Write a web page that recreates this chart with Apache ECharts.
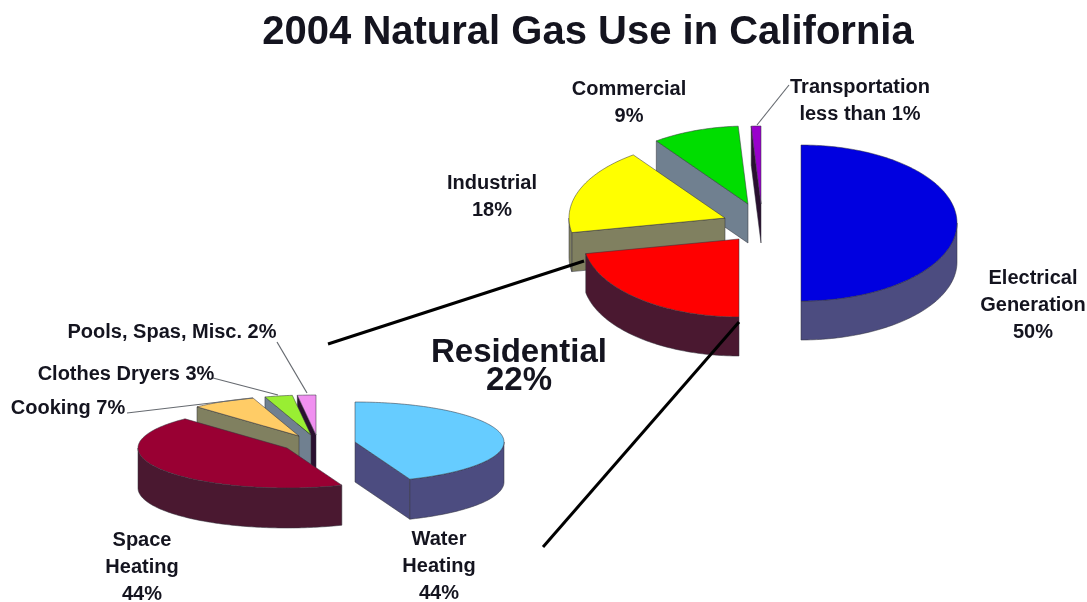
<!DOCTYPE html>
<html><head><meta charset="utf-8">
<style>html,body{margin:0;padding:0;background:#fff}#c{width:1087px;height:602px}</style>
<script src="https://cdn.jsdelivr.net/npm/echarts@6/dist/echarts.min.js"></script>
</head><body><div id="c"></div>
<script>
// ---- data ----
const mainNames = ['Electrical Generation','Residential','Industrial','Commercial','Transportation'];
const mainValues = [50, 22, 18, 9, 1];
const residentialNames = ['Water Heating','Space Heating','Cooking','Clothes Dryers','Pools, Spas, Misc.'];
const residentialValues = [44, 44, 7, 3, 2];
// ---- styles ----
const mainTop = ['#0000e0','#ff0000','#ffff00','#00dd00','#9900cc'];
const mainSide = ['#4c4c80','#4a1830','#808060','#708090','#2a1030'];
const residentialTop = ['#66ccff','#990033','#ffcc66','#99ee33','#f090f0'];
const residentialSide = ['#4c4c80','#4a1830','#808060','#708090','#2a1030'];
// ---- layout: pie centre, radii, depth, explode offset per slice, paint order ----
const mainLayout = {cx:770, cy:222, rx:156, ry:78, depth:39,
  explode:[[31,1],[-31,17],[-45,-4],[-22,-18],[-9,-18]], order:[0,4,3,2,1]};
const residentialLayout = {cx:320, cy:442, rx:149, ry:40, depth:40,
  explode:[[35,0],[-33,6],[-21,-6],[-9,-7],[-4,-7]], order:[4,3,2,1,0]};

function pieRenderer(values, layout, tops, sides){
  const total = values.reduce((a,b)=>a+b,0);
  return function(params, api){
    const i = params.dataIndex;
    let before = 0;
    for(let k=0;k<i;k++) before += values[k];
    const t0 = before/total*2*Math.PI;
    const t1 = (before+api.value(0))/total*2*Math.PI;
    const vx = layout.cx+layout.explode[i][0], vy = layout.cy+layout.explode[i][1];
    const P = t => [vx+layout.rx*Math.sin(t), vy-layout.ry*Math.cos(t)];
    const D = p => [p[0], p[1]+layout.depth];
    const base = layout.order[i]*10;
    const edge = 'rgba(50,50,60,0.65)';
    const kids = [];
    const face = (pts,fill,z)=>kids.push({type:'polygon',z2:base+z,shape:{points:pts},
      style:{fill:fill,stroke:edge,lineWidth:0.8}});
    const V=[vx,vy];
    // visible flat faces
    if(Math.sin(t0)<-1e-6){const a=P(t0);face([V,a,D(a),D(V)],sides[i],1);}
    if(Math.sin(t1)>1e-6){const a=P(t1);face([V,a,D(a),D(V)],sides[i],1);}
    // visible rim (front-facing part of the arc)
    const lo=Math.max(t0,Math.PI/2), hi=Math.min(t1,Math.PI*1.5);
    if(hi>lo){
      const up=[],down=[];
      const n=Math.max(2,Math.ceil((hi-lo)/0.02));
      for(let k=0;k<=n;k++){const p=P(lo+(hi-lo)*k/n);up.push(p);down.unshift(D(p));}
      face(up.concat(down),sides[i],2);
    }
    // top face
    const top=[V];
    const n=Math.max(2,Math.ceil((t1-t0)/0.02));
    for(let k=0;k<=n;k++) top.push(P(t0+(t1-t0)*k/n));
    face(top,tops[i],3);
    return {type:'group',children:kids};
  };
}

const labels = [
  {t:'Commercial\n9%', x:629, y:103},
  {t:'Transportation\nless than 1%', x:860, y:101},
  {t:'Industrial\n18%', x:492, y:197},
  {t:'Electrical\nGeneration\n50%', x:1033, y:305},
  {t:'Space\nHeating\n44%', x:142, y:567},
  {t:'Water\nHeating\n44%', x:439, y:566},
];
const sideLabels = [
  {t:'Pools, Spas, Misc. 2%', x:172, y:332},
  {t:'Clothes Dryers 3%', x:126, y:374},
  {t:'Cooking 7%', x:68, y:408},
];
const leaders = [
  [789,85,757,125],[277,342,307,393],[213,378,278,395],[127,413,253,398]
];
const callouts = [[328,344,584,261],[543,547,739,322]];
const ink='#14141f', fontFam='"Liberation Sans",Arial,sans-serif';
const graphics=[];
leaders.forEach(l=>graphics.push({type:'line',shape:{x1:l[0],y1:l[1],x2:l[2],y2:l[3]},z:50,
  style:{stroke:'#666a70',lineWidth:1.2}}));
callouts.forEach(l=>graphics.push({type:'line',shape:{x1:l[0],y1:l[1],x2:l[2],y2:l[3]},z:50,
  style:{stroke:'#000',lineWidth:3}}));
labels.concat(sideLabels).forEach(l=>graphics.push({type:'text',x:l.x,y:l.y,z:60,style:{
  text:l.t,fill:ink,font:'bold 20px '+fontFam,lineHeight:27,align:'center',verticalAlign:'middle'}}));
graphics.push({type:'text',x:519,y:353,z:60,style:{text:'Residential',fill:ink,
  font:'bold 33px '+fontFam,align:'center',verticalAlign:'middle'}});
graphics.push({type:'text',x:519,y:381,z:60,style:{text:'22%',fill:ink,
  font:'bold 33px '+fontFam,align:'center',verticalAlign:'middle'}});

const chart = echarts.init(document.getElementById('c'),null,{renderer:'canvas'});
chart.setOption({
  animation:false,
  backgroundColor:'#fff',
  title:{text:'2004 Natural Gas Use in California',left:583,top:8,textAlign:'center',
    textStyle:{fontFamily:fontFam,fontWeight:'bold',fontSize:40,color:ink}},
  graphic:graphics,
  series:[
    {type:'custom',name:'California',coordinateSystem:'none',silent:true,
     data:mainValues.map((v,i)=>({name:mainNames[i],value:[v]})),
     renderItem:pieRenderer(mainValues,mainLayout,mainTop,mainSide)},
    {type:'custom',name:'Residential',coordinateSystem:'none',silent:true,
     data:residentialValues.map((v,i)=>({name:residentialNames[i],value:[v]})),
     renderItem:pieRenderer(residentialValues,residentialLayout,residentialTop,residentialSide)}
  ]
});
</script></body></html>
